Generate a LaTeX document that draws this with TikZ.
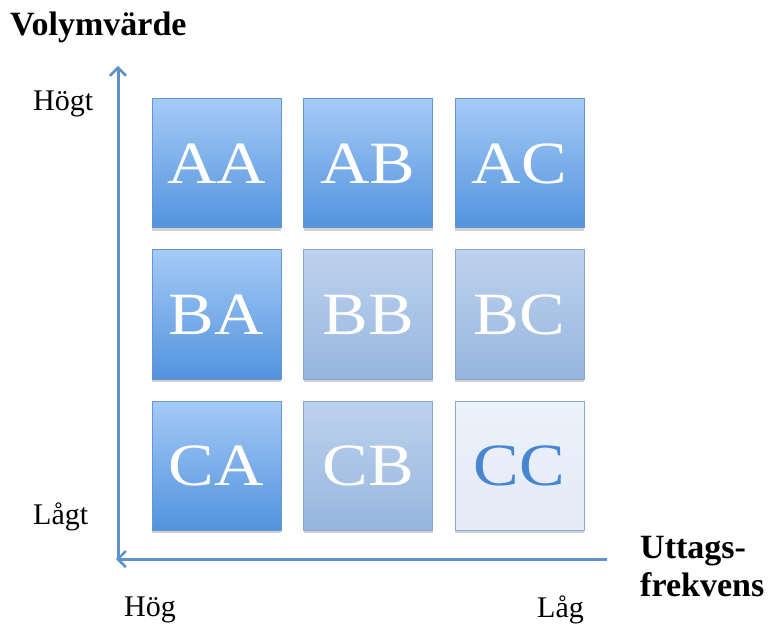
\documentclass[tikz,border=0pt]{standalone}
\usepackage{fontspec}
\usepackage{graphicx}
\setmainfont{Liberation Serif}
\usetikzlibrary{arrows.meta,shadows}
\definecolor{axisblue}{RGB}{95,145,205}
\definecolor{darktop}{RGB}{165,202,246}
\definecolor{darkbot}{RGB}{82,147,222}
\definecolor{darkedge}{RGB}{100,150,210}
\definecolor{midtop}{RGB}{190,210,238}
\definecolor{midbot}{RGB}{150,182,222}
\definecolor{midedge}{RGB}{135,165,210}
\definecolor{lighttop}{RGB}{236,241,250}
\definecolor{lightbot}{RGB}{228,235,247}
\definecolor{lightedge}{RGB}{140,170,212}
\definecolor{cctext}{RGB}{72,134,210}
\newcommand{\wide}[1]{\scalebox{1.14}[1]{#1}}
\tikzset{
  cell/.style={minimum size=129pt, inner sep=0pt, line width=1pt,
    font=\fontsize{60}{60}\selectfont,
    drop shadow={shadow xshift=0pt, shadow yshift=-3pt, opacity=0.18, fill=black}},
  darkcell/.style={cell, draw=darkedge, top color=darktop, bottom color=darkbot, text=white},
  midcell/.style={cell, draw=midedge, top color=midtop, bottom color=midbot, text=white},
  lightcell/.style={cell, draw=lightedge, top color=lighttop, bottom color=lightbot, text=cctext},
  axis/.style={draw=axisblue, line width=3pt, -{Straight Barb[length=8pt,width=16pt,line width=2.5pt]}},
  lbl/.style={font=\fontsize{30}{30}\selectfont, inner sep=0pt},
  title/.style={font=\fontsize{34}{38}\selectfont\bfseries, inner sep=0pt, align=left}
}
\begin{document}
\begin{tikzpicture}[x=1pt,y=-1pt]
\useasboundingbox[fill=white] (0,0) rectangle (771,628);
% cells
\node[darkcell] (AA) at (216.5,163.5) {\wide{AA}};
\node[darkcell] (AB) at (368,163.5) {\wide{AB}};
\node[darkcell] (AC) at (519.5,163.5) {\wide{AC}};
\node[darkcell] (BA) at (216.5,314.5) {\wide{BA}};
\node[midcell] (BB) at (368,314.5) {\wide{BB}};
\node[midcell] (BC) at (519.5,314.5) {\wide{BC}};
\node[darkcell] (CA) at (216.5,465.5) {\wide{CA}};
\node[midcell] (CB) at (368,465.5) {\wide{CB}};
\node[lightcell] (CC) at (519.5,465.5) {\wide{CC}};
% axes
\coordinate (corner) at (118,559);
\coordinate (ytop) at (118,66);
\coordinate (xright) at (607,559);
\coordinate (xleft) at (116,559);
\draw[axis] (corner) -- (ytop);
\draw[axis] (xright) -- (xleft);
% labels
\node[title, anchor=west] (vol) at (10,27) {Volymvärde};
\node[lbl, anchor=west] (hogt) at (33,104) {Högt};
\node[lbl, anchor=west] (lagt) at (33,517) {Lågt};
\node[lbl, anchor=west] (hog) at (124,610) {Hög};
\node[lbl, anchor=west] (lag) at (537,610) {Låg};
\node[title, anchor=north west] (utt) at (640,536) {Uttags-\\frekvens};
\end{tikzpicture}
\end{document}
